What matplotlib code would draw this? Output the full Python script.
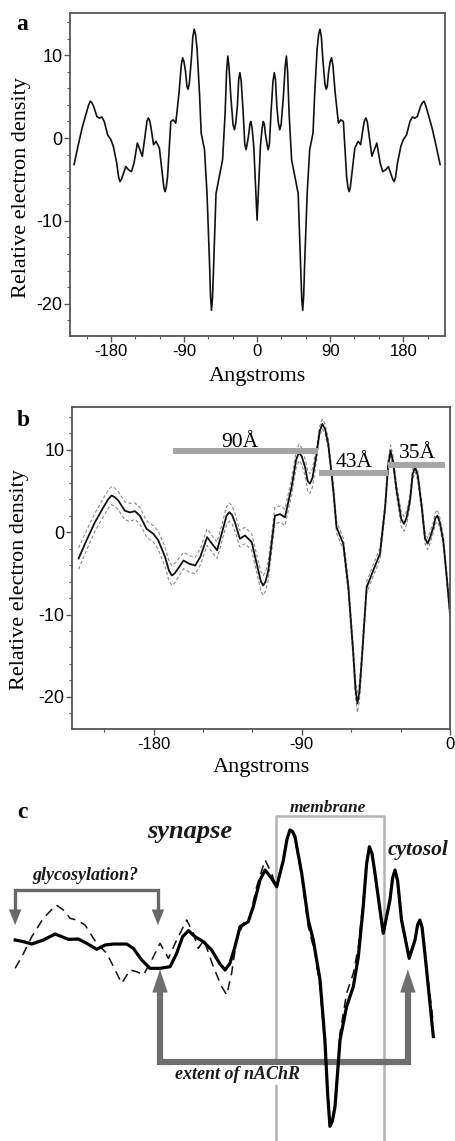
import matplotlib.pyplot as plt
from matplotlib.ticker import MultipleLocator

# electron density profile, left half (Angstroms, relative density, error)
x_left = [-225.5, -220.7, -215.6, -210.5, -207.5, -205.5, -203.5, -201.4, -197.4, -194.3,
          -191.3, -188.3, -184.2, -180.1, -177.1, -173.0, -170.6, -168.9, -167.2, -165.9,
          -161.8, -158.3, -154.7, -151.6, -147.5, -144.5, -141.4, -138.1, -135.7, -134.0,
          -132.3, -130.6, -127.6, -124.5, -120.4, -116.4, -114.8, -113.4, -112.0, -110.3,
          -106.3, -103.2, -100.2, -96.2, -93.4, -91.7, -90.0, -88.0, -86.4, -85.0,
          -83.5, -81.0, -79.2, -77.5, -75.8, -73.9, -70.8, -68.9, -64.8, -61.7,
          -58.7, -57.4, -56.2, -55.0, -53.6, -50.6, -46.6, -42.5, -39.4, -37.6,
          -36.1, -34.6, -32.4, -29.6, -27.9, -26.3, -24.3, -22.7, -21.2, -19.6,
          -17.1, -15.2, -13.6, -12.0, -10.1, -8.9, -7.6, -6.2, -4.1, -2.2,
          0.0]
rho_left = [-3.2, -1.0, 1.2, 3.0, 4.0, 4.45, 4.25, 3.84, 2.6, 2.4,
            2.55, 2.0, 0.4, -0.2, -1.0, -3.0, -4.7, -5.26, -5.0, -4.65,
            -3.44, -3.84, -4.05, -3.0, -0.6, -1.4, -2.2, 0.2, 2.0, 2.43,
            2.1, 1.2, -0.8, -0.4, -1.2, -4.65, -6.0, -6.47, -6.0, -4.65,
            2.0, 2.2, 1.8, 5.46, 8.8, 9.7, 9.2, 7.9, 6.2, 5.9,
            6.6, 9.5, 12.2, 13.15, 12.5, 10.7, 5.06, 0.6, -1.4, -6.7,
            -14.8, -19.0, -20.8, -19.4, -15.6, -6.7, -4.65, -2.6, 3.0, 8.0,
            9.9, 8.6, 5.06, 1.6, 1.0, 1.8, 3.84, 7.0, 7.9, 6.9,
            3.0, -0.7, -1.4, -0.6, 0.6, 1.7, 2.0, 1.2, -1.0, -5.0,
            -9.9]
rho_err = [1.3, 1.2, 1.1, 1.1, 1.1, 1.1, 1.1, 1.1, 1.1, 1.1,
           1.0, 1.0, 1.0, 1.0, 1.1, 1.2, 1.2, 1.2, 1.2, 1.1,
           1.0, 1.0, 1.0, 1.0, 1.0, 1.0, 1.0, 1.0, 1.1, 1.1,
           1.1, 1.1, 1.0, 1.0, 1.0, 1.1, 1.2, 1.2, 1.2, 1.1,
           1.0, 1.0, 1.0, 1.0, 1.0, 1.0, 1.0, 1.0, 1.2, 1.2,
           1.1, 0.8, 0.6, 0.6, 0.6, 0.6, 0.7, 0.7, 0.7, 0.8,
           0.9, 1.1, 1.1, 1.1, 0.9, 0.7, 0.7, 0.7, 0.7, 0.7,
           0.7, 0.7, 0.7, 0.9, 0.9, 0.8, 0.7, 0.6, 0.6, 0.6,
           0.6, 0.7, 0.7, 0.7, 0.6, 0.7, 0.7, 0.6, 0.6, 0.6,
           0.6]

# right half of the symmetric profile (panel a only)
x_right = [2.2, 4.1, 6.2, 7.6, 8.9, 10.1, 12.0, 13.6, 15.2, 17.1,
           19.6, 21.2, 22.7, 24.3, 26.3, 27.9, 29.6, 32.4, 34.6, 36.1,
           37.6, 39.4, 42.5, 46.6, 50.6, 53.6, 55.0, 56.2, 57.4, 58.7,
           61.7, 64.8, 68.9, 70.8, 73.9, 75.8, 77.5, 79.2, 81.0, 83.5,
           85.0, 86.4, 88.0, 90.0, 91.7, 93.4, 96.2, 100.2, 103.2, 106.3,
           110.3, 112.0, 113.4, 114.8, 116.4, 120.4, 124.5, 127.6, 130.6, 132.3,
           134.0, 135.7, 138.1, 141.4, 144.5, 147.5, 151.6, 154.7, 158.3, 161.8,
           165.9, 167.2, 168.9, 170.6, 173.0, 177.1, 180.1, 184.2, 188.3, 191.3,
           194.3, 197.4, 201.4, 203.5, 205.5, 207.5, 210.5, 215.6, 220.7, 225.5]
rho_right = [-5.0, -1.0, 1.2, 2.0, 1.7, 0.6, -0.6, -1.4, -0.7, 3.0,
             6.9, 7.9, 7.0, 3.84, 1.8, 1.0, 1.6, 5.06, 8.6, 9.9,
             8.0, 3.0, -2.6, -4.65, -6.7, -15.6, -19.4, -20.8, -19.0, -14.8,
             -6.7, -1.4, 0.6, 5.06, 10.7, 12.5, 13.15, 12.2, 9.5, 6.6,
             5.9, 6.2, 7.9, 9.2, 9.7, 8.8, 5.46, 1.8, 2.2, 2.0,
             -4.65, -6.0, -6.47, -6.0, -4.65, -1.2, -0.4, -0.8, 1.2, 2.1,
             2.43, 2.0, 0.2, -2.2, -1.4, -0.6, -3.0, -4.05, -3.84, -3.44,
             -4.65, -5.0, -5.26, -4.7, -3.0, -1.0, -0.2, 0.4, 2.0, 2.55,
             2.4, 2.6, 3.84, 4.25, 4.45, 4.0, 3.0, 1.2, -1.0, -3.2]

# repeat spacings marked in panel b
bar_labels = ['90Å', '43Å', '35Å']
bar_start = [-168.4, -79.4, -37.5]
bar_end = [-80.0, -37.5, -3.0]
bar_y = [9.8, 7.16, 8.17]
bar_text_x = [-127.5, -58.3, -19.7]
bar_text_y = [10.4, 7.9, 9.0]

# panel c: model (solid) and measured (dashed) profiles
c_solid_x = [-225.1, -220.6, -216.2, -210.0, -203.7, -200.2, -196.6, -191.3, -186.8, -181.5,
             -177.0, -172.5, -165.4, -161.9, -157.4, -153.0, -147.6, -142.2, -138.7, -135.5,
             -132.4, -128.9, -124.4, -120.0, -115.5, -112.8, -110.2, -107.5, -104.8, -100.4,
             -97.7, -94.1, -91.4, -87.9, -85.2, -81.6, -79.7, -78.1, -76.7, -75.4,
             -71.8, -68.3, -65.6, -62.0, -59.4, -57.9, -56.7, -55.4, -54.0, -51.3,
             -47.8, -44.2, -41.5, -38.9, -37.1, -35.6, -34.2, -32.6, -28.2, -24.6,
             -23.2, -21.9, -20.5, -18.4, -14.3, -11.2, -9.8, -8.6, -7.4, -5.9,
             -1.4]
c_solid_y = [0.57, 0.38, 0.11, 0.57, 1.25, 0.95, 0.64, 0.68, 0.19, -0.49,
             0.0, 0.11, 0.11, -0.38, -1.7, -2.65, -2.65, -2.46, -0.95, 0.95,
             1.63, 0.95, 0.38, -0.57, -2.16, -2.84, -2.08, -0.19, 2.08, 2.65,
             4.36, 7.39, 8.52, 7.58, 6.63, 9.66, 12.0, 13.07, 12.9, 12.31,
             8.14, 2.84, 0.57, -3.98, -10.8, -17.0, -20.6, -20.0, -18.4, -10.8,
             -7.0, -4.73, -1.33, 4.36, 9.2, 11.17, 10.4, 8.14, 1.33, 5.11,
             7.6, 8.52, 7.3, 2.84, -1.52, 0.57, 2.3, 2.84, 2.0, -0.95,
             -10.4]
c_dash_x = [-225.1, -220.6, -216.2, -210.0, -203.2, -199.3, -195.7, -192.2, -187.7, -181.5,
            -176.1, -172.5, -168.1, -163.6, -160.1, -156.5, -152.0, -147.6, -143.1, -138.7,
            -133.3, -129.8, -127.1, -124.1, -119.1, -114.6, -111.9, -109.3, -106.6, -103.0,
            -99.5, -95.9, -91.4, -87.9, -85.2, -81.6, -79.7, -78.1, -76.7, -75.4,
            -71.8, -68.3, -64.7, -62.0, -59.4, -57.9, -56.7, -55.4, -54.0, -51.3,
            -47.8, -44.2, -41.5, -38.9, -37.1, -35.6, -34.2, -32.6, -28.2, -24.6,
            -23.2, -21.9, -20.5, -18.4, -14.3, -11.2, -9.8, -8.6, -7.4, -5.9,
            -1.4]
c_dash_y = [-2.65, -0.95, 0.95, 3.03, 4.55, 3.98, 3.03, 2.84, 2.27, 0.19,
            -0.95, -2.46, -4.36, -2.84, -3.03, -3.41, -1.7, 0.19, -1.52, 0.57,
            2.84, 1.33, -0.38, 0.57, -2.46, -4.73, -5.68, -3.22, 0.57, 2.46,
            3.22, 6.63, 9.66, 8.14, 6.44, 9.66, 12.0, 12.99, 12.8, 12.12,
            7.77, 2.08, -0.95, -4.73, -11.55, -17.0, -20.3, -19.8, -18.0, -10.0,
            -5.5, -3.22, -0.19, 5.11, 9.0, 11.0, 10.2, 7.77, 1.52, 5.11,
            7.4, 8.33, 7.1, 2.65, -1.33, 0.57, 2.2, 2.65, 1.9, -0.95,
            -8.9]

SERIF = 'Liberation Serif'
SANS = 'Liberation Sans'
plt.rcParams['axes.unicode_minus'] = False

W, H = 455, 1141
fig = plt.figure(figsize=(W / 100, H / 100), dpi=100)


def px_axes(left, top, right, bottom):
    return fig.add_axes([left / W, 1 - bottom / H, (right - left) / W, (bottom - top) / H])


def style(ax):
    for s in ax.spines.values():
        s.set_color('#555555')
        s.set_linewidth(1.3)
    ax.xaxis.set_major_locator(MultipleLocator(90))
    ax.xaxis.set_minor_locator(MultipleLocator(30))
    ax.yaxis.set_major_locator(MultipleLocator(10))
    ax.yaxis.set_minor_locator(MultipleLocator(2))
    ax.tick_params(which='both', direction='out', color='#555555', top=False, right=False)
    ax.tick_params(which='major', length=4, width=1.0)
    ax.tick_params(which='minor', length=2.5, width=0.8)
    ax.tick_params(axis='x', which='major', labelsize=12, pad=2)
    ax.tick_params(axis='y', which='major', labelsize=13, pad=1.5)
    for lab in ax.get_xticklabels() + ax.get_yticklabels():
        lab.set_fontfamily(SANS)
    ax.set_xlabel('Angstroms', fontfamily=SERIF, fontsize=16)
    ax.set_ylabel('Relative electron density', fontfamily=SERIF, fontsize=16)
    ax.xaxis.label.set_verticalalignment('center')
    ax.yaxis.label.set_verticalalignment('center')


# a
ax_a = px_axes(70, 13, 445, 336)
ax_a.plot(x_left + x_right, rho_left + rho_right, color='#111111', lw=1.2,
          solid_joinstyle='round')
ax_a.set_xlim(-230.5, 231.5)
ax_a.set_ylim(-23.9, 15.1)
style(ax_a)
ax_a.xaxis.set_label_coords(0.5, -0.124)
ax_a.yaxis.set_label_coords(-0.128, 0.46)

# b
ax_b = px_axes(72, 407, 450, 729)
upper = [r + e for r, e in zip(rho_left, rho_err)]
lower = [r - e for r, e in zip(rho_left, rho_err)]
ax_b.plot(x_left, upper, color='#8a8a8a', lw=0.8, ls=(0, (3, 2)))
ax_b.plot(x_left, lower, color='#8a8a8a', lw=0.8, ls=(0, (3, 2)))
ax_b.plot(x_left, rho_left, color='#111111', lw=1.3, solid_joinstyle='round')
ax_b.hlines(bar_y, bar_start, bar_end, colors='#a5a5a5', lw=4.3, zorder=3)
for lab, tx, ty in zip(bar_labels, bar_text_x, bar_text_y):
    ax_b.text(tx, ty, lab, ha='center', va='baseline', fontfamily=SERIF, fontsize=15.5,
              zorder=4)
ax_b.set_xlim(-229.5, 0)
ax_b.set_ylim(-23.9, 15.2)
style(ax_b)
ax_b.xaxis.set_label_coords(0.5, -0.121)
ax_b.yaxis.set_label_coords(-0.138, 0.463)

# c
ax_c = px_axes(0, 780, W, H)
ax_c.set_xlim(-233.2, 10.2)
ax_c.set_ylim(-22.27, 18.75)
ax_c.axis('off')

# membrane box, open at the bottom
ax_c.plot([-85.7, -85.7, -27.8, -27.8], [-30, 14.66, 14.66, -30], color='#b3b3b3',
          lw=1.8, clip_on=False, zorder=1)

# extent of nAChR bracket
ax_c.plot([-147.6, -147.6, -15.0, -15.0], [-4.5, -13.3, -13.3, -4.5], color='#6e6e6e',
          lw=4.5, solid_joinstyle='miter', zorder=2)
for xa in [-147.6, -15.0]:
    ax_c.annotate('', xy=(xa, -2.8), xytext=(xa, -5.0),
                  arrowprops=dict(arrowstyle='-|>,head_length=0.65,head_width=0.22',
                                  mutation_scale=25, color='#6e6e6e', lw=0.1,
                                  shrinkA=0, shrinkB=0), zorder=2)

# glycosylation bracket
ax_c.plot([-225.1, -225.1, -148.7, -148.7], [3.6, 6.25, 6.25, 3.6], color='#686868',
          lw=2.4, solid_joinstyle='miter', zorder=2)
for xa in [-225.1, -148.7]:
    ax_c.annotate('', xy=(xa, 2.27), xytext=(xa, 3.8),
                  arrowprops=dict(arrowstyle='-|>,head_length=0.55,head_width=0.22',
                                  mutation_scale=20, color='#686868', lw=0.1,
                                  shrinkA=0, shrinkB=0), zorder=2)

ax_c.plot(c_dash_x, c_dash_y, color='#111111', lw=1.1, ls=(0, (6, 4)), zorder=4)
ax_c.plot(c_solid_x, c_solid_y, color='#000000', lw=2.3, solid_joinstyle='round', zorder=5)

txt = dict(fontfamily=SERIF, fontweight='bold', fontstyle='italic', ha='center',
           va='center', color='#1a1a1a', zorder=6)
ax_c.text(-57.8, 15.6, 'membrane', fontsize=12.5, **txt)
ax_c.text(-131.6, 12.95, 'synapse', fontsize=19, **txt)
ax_c.text(-9.6, 10.8, 'cytosol', fontsize=15.5, **txt)
ax_c.text(-187.7, 7.95, 'glycosylation?', fontsize=13, **txt)
ax_c.text(-106.4, -14.77, 'extent of nAChR', fontsize=13,
          bbox=dict(facecolor='white', edgecolor='none', pad=1), **txt)

# panel letters
for lab, (px, py) in zip(['a', 'b', 'c'], [(22, 25), (23, 420), (22, 812)]):
    fig.text(px / W, 1 - py / H, lab, ha='center', va='center', fontfamily=SERIF,
             fontweight='bold', fontsize=17)

fig.savefig('out.png', dpi=100)
